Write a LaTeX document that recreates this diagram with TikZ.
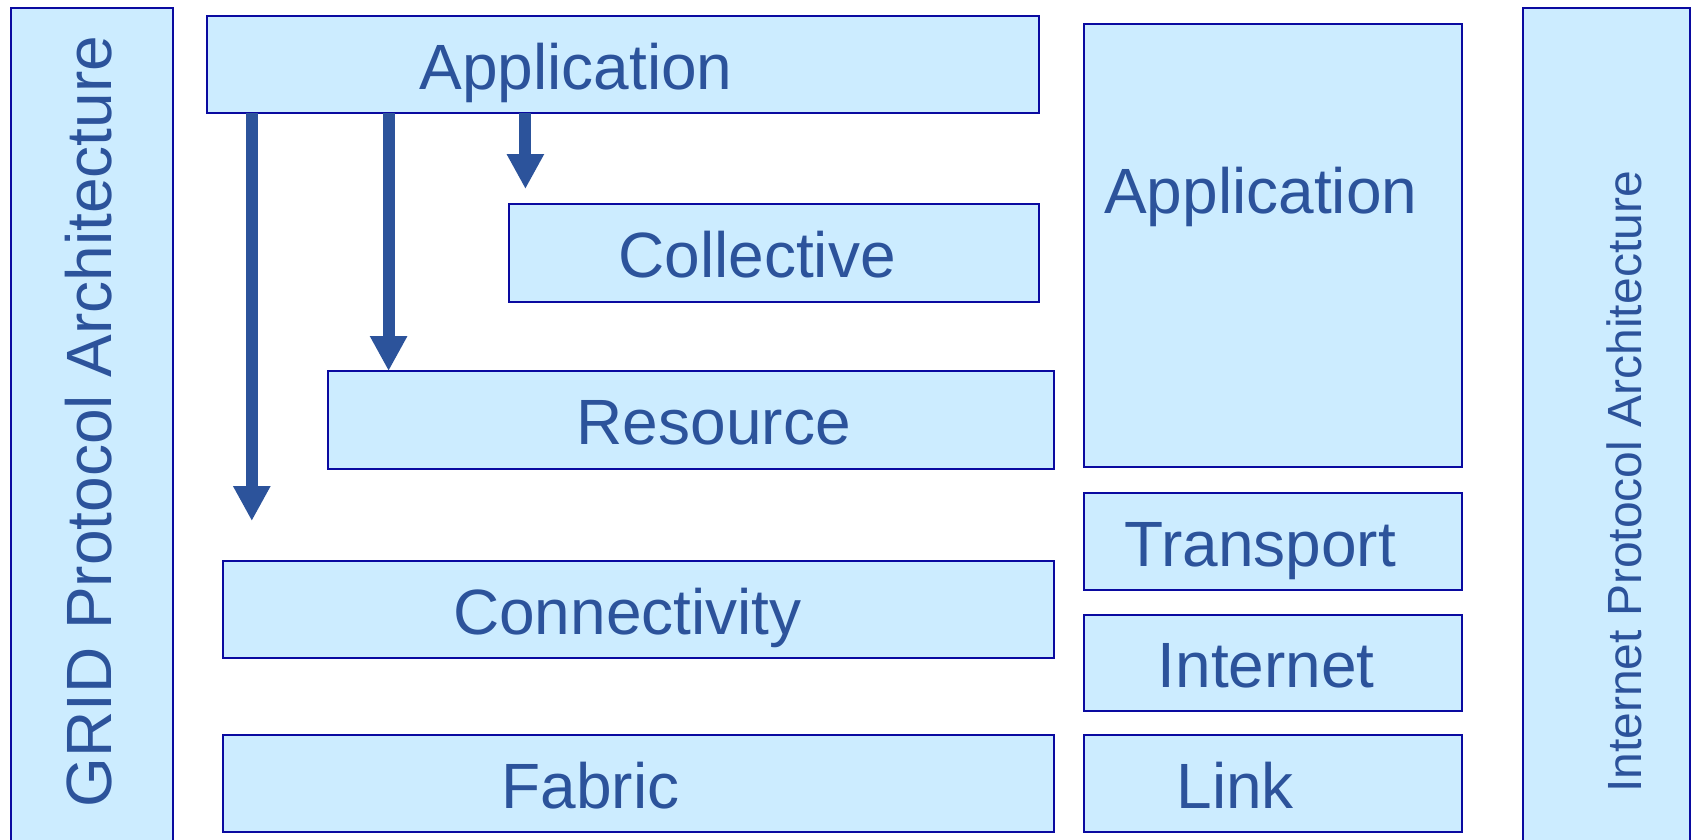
\documentclass[tikz,border=0pt]{standalone}
\usepackage{fontspec}
\setmainfont{Liberation Sans}
\usetikzlibrary{arrows.meta}
\definecolor{boxfill}{HTML}{CCECFF}
\definecolor{boxline}{HTML}{0A0AA0}
\definecolor{txt}{HTML}{2C539B}
\begin{document}
\begin{tikzpicture}[x=1pt,y=-1pt,
  layer/.style={draw=boxline, fill=boxfill, line width=2pt, inner sep=0pt, outer sep=0pt, anchor=north west},
  lbl/.style={text=txt, font=\fontsize{64}{70}\selectfont, inner sep=0pt, anchor=base},
  flow/.style={draw=txt, line width=12pt, -{Triangle[width=35pt,length=35pt]}}]
\useasboundingbox (0,0) rectangle (1702,839);
\fill[white] (0,0) rectangle (1702,839);
\begin{scope}
\clip (0,0) rectangle (1702,839);
% boxes
\node[layer, minimum width=162pt, minimum height=840pt] (grid) at (10.5,8) {};
\node[layer, minimum width=832pt, minimum height=97pt] (app) at (207,16) {};
\node[layer, minimum width=530pt, minimum height=98pt] (coll) at (509,204) {};
\node[layer, minimum width=726pt, minimum height=98pt] (res) at (328,371) {};
\node[layer, minimum width=831.5pt, minimum height=97pt] (conn) at (222.5,561) {};
\node[layer, minimum width=831.5pt, minimum height=97pt] (fab) at (222.5,735) {};
\node[layer, minimum width=378pt, minimum height=443pt] (iapp) at (1084,24) {};
\node[layer, minimum width=378pt, minimum height=96.5pt] (trans) at (1084,493) {};
\node[layer, minimum width=378pt, minimum height=96.5pt] (inet) at (1084,614.5) {};
\node[layer, minimum width=378pt, minimum height=96.5pt] (link) at (1084,735) {};
\node[layer, minimum width=167pt, minimum height=840pt] (ip) at (1523,8) {};
\end{scope}
% labels
\node[lbl] (tApp) at (575.9,89) {Application};
\node[lbl] (tColl) at (757,277) {Collective};
\node[lbl] (tRes) at (713.7,444) {Resource};
\node[lbl] (tConn) at (627.4,634) {Connectivity};
\node[lbl] (tFab) at (590.5,808) {Fabric};
\node[lbl] (tIApp) at (1260.8,213) {Application};
\node[lbl] (tTrans) at (1260.2,566) {Transport};
\node[lbl] (tInet) at (1266.2,687) {Internet};
\node[lbl] (tLink) at (1235.3,808) {Link};
\node[lbl, rotate=90] (tGrid) at (111,421.7) {GRID Protocol Architecture};
\node[lbl, rotate=90, font=\fontsize{48}{54}\selectfont] (tIP) at (1641,482) {Internet Protocol Architecture};
% arrows
\coordinate (t1) at (251.8,521);
\coordinate (x2) at (388.6,0);
\coordinate (t3) at (525.4,189);
\draw[flow] (app.south -| t1) -- (t1);
\draw[flow] (app.south -| x2) -- (res.north -| x2);
\draw[flow] (app.south -| t3) -- (t3);
\end{tikzpicture}
\end{document}
